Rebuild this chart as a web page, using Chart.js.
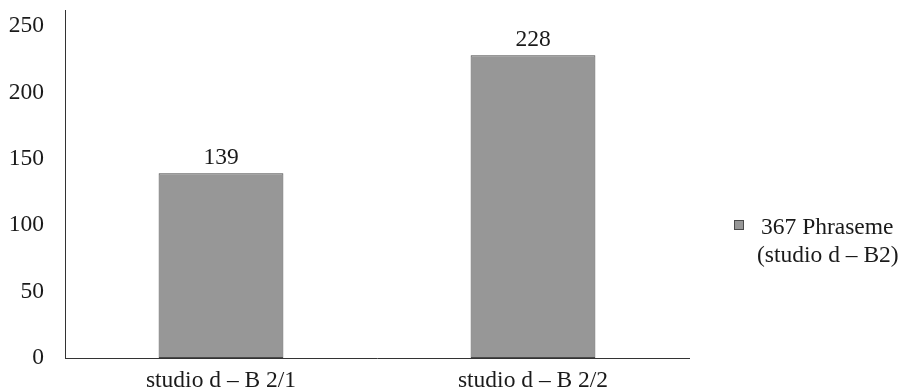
<!DOCTYPE html>
<html>
<head>
<meta charset="utf-8">
<script src="https://cdn.jsdelivr.net/npm/chart.js@4/dist/chart.umd.min.js"></script>
<style>
  html, body { margin: 0; padding: 0; background: #fff; }
  #wrap { width: 902px; height: 388px; }
</style>
</head>
<body>
<div id="wrap"><canvas id="myChart" width="902" height="388"></canvas></div>
<script>
const categories = ['studio d \u2013 B 2/1', 'studio d \u2013 B 2/2']
const phraseme   = [139, 228]
const serieLabel = ['367 Phraseme', '(studio d \u2013 B2)']
const yTicks     = [0, 50, 100, 150, 200, 250]

const fuente = "'Liberation Serif', 'Times New Roman', serif"
const tamano = 23.5
const colorTexto = '#1a1a1a'

// numbers above each bar
const valueLabels = {
    id: 'valueLabels',
    afterDatasetsDraw(chart) {
        const ctx = chart.ctx
        ctx.save()
        ctx.font = tamano + 'px ' + fuente
        ctx.fillStyle = colorTexto
        ctx.textAlign = 'center'
        ctx.textBaseline = 'alphabetic'
        chart.getDatasetMeta(0).data.forEach((bar, i) => {
            ctx.fillText(chart.data.datasets[0].data[i], bar.x, bar.y - 9)
        })
        ctx.restore()
    }
}

// legend on the right, label split over two lines
const sideLegend = {
    id: 'sideLegend',
    afterDraw(chart) {
        const ctx = chart.ctx
        const ds = chart.data.datasets[0]
        ctx.save()
        ctx.fillStyle = ds.backgroundColor
        ctx.strokeStyle = ds.borderColor
        ctx.lineWidth = 1
        ctx.fillRect(734, 220, 10, 10)
        ctx.strokeRect(734.5, 220.5, 9, 9)
        ctx.font = tamano + 'px ' + fuente
        ctx.fillStyle = colorTexto
        ctx.textBaseline = 'middle'
        ctx.textAlign = 'left'
        ctx.fillText(ds.label[0], 761, 228)
        ctx.fillText(ds.label[1], 757, 256)
        ctx.restore()
    }
}

const config = {
    type: 'bar',
    data: {
        labels: categories,
        datasets: [{
            label: serieLabel,
            data: phraseme,
            backgroundColor: '#979797',
            borderColor: '#4a4a4a',
            borderWidth: 1,
            borderSkipped: false,
            barPercentage: 0.4,
            categoryPercentage: 1
        }]
    },
    options: {
        responsive: false,
        animation: false,
        layout: { padding: { top: 10, right: 213, left: 0, bottom: 0 } },
        plugins: {
            legend: { display: false },
            tooltip: { enabled: false }
        },
        scales: {
            x: {
                grid: { display: false },
                border: { display: true, color: '#333', width: 1 },
                ticks: { color: colorTexto, font: { family: fuente, size: tamano }, padding: 1, maxRotation: 0 },
                afterFit(scale) {
                    scale.height = 30
                    scale.paddingLeft = 0
                    scale.paddingRight = 0
                }
            },
            y: {
                min: 0,
                max: 262,
                grid: { display: false },
                border: { display: true, color: '#333', width: 1 },
                ticks: { color: colorTexto, font: { family: fuente, size: tamano }, padding: 13 },
                afterBuildTicks(scale) { scale.ticks = yTicks.map(v => ({ value: v })) },
                afterFit(scale) {
                    scale.width = 65
                    scale.paddingTop = 0
                    scale.paddingBottom = 0
                }
            }
        }
    },
    plugins: [valueLabels, sideLegend]
}

new Chart(document.getElementById('myChart'), config)
</script>
</body>
</html>
